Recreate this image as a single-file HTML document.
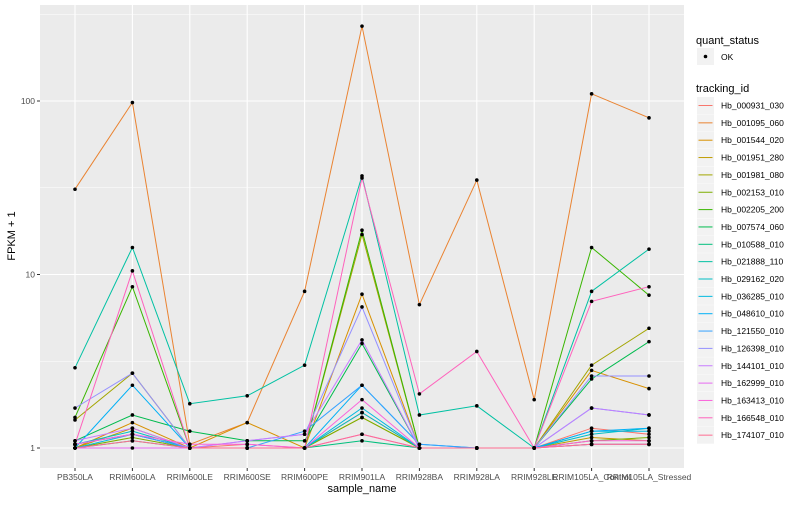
<!DOCTYPE html>
<html><head><meta charset="utf-8"><style>
body{margin:0;background:#fff;font-family:"Liberation Sans",sans-serif}
</style></head><body>
<svg id="chart" width="800" height="500" xmlns="http://www.w3.org/2000/svg" font-family="Liberation Sans, sans-serif">
<rect x="0" y="0" width="800" height="500" fill="#fff"/>
<rect x="40" y="5" width="644" height="463" fill="#ebebeb"/>
<g id="grid"></g><g id="lines"></g><g id="points"></g><g id="axes"></g><g id="legend"></g>
<text x="362" y="492" font-size="11" text-anchor="middle" fill="#000">sample_name</text>
<text x="15" y="236" font-size="11" text-anchor="middle" fill="#000" transform="rotate(-90 15 236)">FPKM + 1</text>
</svg>
<script>
const categories=["PB350LA","RRIM600LA","RRIM600LE","RRIM600SE","RRIM600PE","RRIM901LA","RRIM928BA","RRIM928LA","RRIM928LE","RRIM105LA_Control","RRIM105LA_Stressed"];
const seriesIds=["Hb_000931_030","Hb_001095_060","Hb_001544_020","Hb_001951_280","Hb_001981_080","Hb_002153_010","Hb_002205_200","Hb_007574_060","Hb_010588_010","Hb_021888_110","Hb_029162_020","Hb_036285_010","Hb_048610_010","Hb_121550_010","Hb_126398_010","Hb_144101_010","Hb_162999_010","Hb_163413_010","Hb_166548_010","Hb_174107_010"];
const seriesColors=["#F8766D","#EA8331","#D89000","#C09B00","#A3A500","#7CAE00","#39B600","#00BB4E","#00BF7D","#00C1A3","#00BFC4","#00BAE0","#00B0F6","#35A2FF","#9590FF","#C77CFF","#E76BF3","#FA62DB","#FF62BC","#FF6C91"];
const v000931=[1.05,1.2,1.0,1.05,1.0,1.6,1.0,1.0,1.0,1.3,1.2];
const v001095=[31,98,1.05,1.4,8,270,6.7,35,1.9,110,80];
const v001544=[1.0,1.4,1.0,1.4,1.0,7.7,1.0,1.0,1.0,2.8,2.2];
const v001951=[1.0,1.3,1.0,1.0,1.0,1.5,1.0,1.0,1.0,1.15,1.1];
const v001981=[1.45,2.7,1.0,1.0,1.0,17,1.0,1.0,1.0,3.0,4.9];
const v002153=[1.0,1.15,1.0,1.0,1.0,1.5,1.0,1.0,1.0,1.1,1.15];
const v002205=[1.5,8.5,1.0,1.0,1.0,18,1.0,1.0,1.0,14.3,7.6];
const v007574=[1.1,1.55,1.25,1.1,1.1,4.0,1.0,1.0,1.0,2.5,4.1];
const v010588=[1.0,1.1,1.0,1.0,1.0,1.1,1.0,1.0,1.0,1.05,1.05];
const v021888=[2.9,14.3,1.8,2.0,3.0,37,1.55,1.75,1.0,8,14];
const v029162=[1.05,1.25,1.0,1.0,1.0,1.6,1.0,1.0,1.0,1.2,1.3];
const v036285=[1.0,1.2,1.0,1.0,1.0,1.7,1.0,1.0,1.0,1.25,1.25];
const v048610=[1.0,2.3,1.0,1.0,1.0,2.3,1.05,1.0,1.0,1.25,1.3];
const v121550=[1.05,1.2,1.0,1.0,1.25,2.3,1.05,1.0,1.0,1.7,1.55];
const v126398=[1.7,2.7,1.0,1.1,1.2,6.5,1.0,1.0,1.0,2.6,2.6];
const v144101=[1.1,1.3,1.0,1.1,1.2,4.2,1.0,1.0,1.0,1.7,1.55];
const v162999=[1.0,1.0,1.0,1.0,1.0,1.2,1.0,1.0,1.0,1.05,1.05];
const v163413=[1.05,1.2,1.05,1.05,1.0,1.9,1.0,1.0,1.0,1.1,1.1];
const v166548=[1.05,10.5,1.0,1.0,1.0,36,2.05,3.6,1.0,7,8.5];
const v174107=[1.0,1.1,1.0,1.0,1.0,1.2,1.0,1.0,1.0,1.05,1.05];
const seriesValues=[v000931,v001095,v001544,v001951,v001981,v002153,v002205,v007574,v010588,v021888,v029162,v036285,v048610,v121550,v126398,v144101,v162999,v163413,v166548,v174107];
const yTicks=[1,10,100];
const yTickLabels=["1","10","100"];
const NS="http://www.w3.org/2000/svg";
function xPos(i){return 75+i*57.4;}
function yPos(v){return 448-173.5*Math.log10(v);}
function mk(tag,attrs,parent){const e=document.createElementNS(NS,tag);for(const k in attrs)e.setAttribute(k,attrs[k]);parent.appendChild(e);return e;}
const grid=document.getElementById('grid'),lines=document.getElementById('lines'),pts=document.getElementById('points'),axes=document.getElementById('axes'),leg=document.getElementById('legend');
[0.5,1.5,2.5].forEach(l=>{const y=448-173.5*l;if(y>5){const g=mk('line',{x1:40,x2:684,y1:y,y2:y,stroke:'#fff','stroke-width':0.5},grid);

}});
yTicks.forEach((t,i)=>{const y=yPos(t);const g=mk('line',{x1:40,x2:684,y1:y,y2:y,stroke:'#fff','stroke-width':1.1},grid);


const tk=mk('line',{x1:37,x2:40,y1:y,y2:y,stroke:'#333','stroke-width':1},axes);


const tx=mk('text',{x:35,y:y+3,'font-size':8.5,'text-anchor':'end',fill:'#4d4d4d'},axes);tx.textContent=yTickLabels[i];

});
categories.forEach((c,i)=>{const x=xPos(i);const g=mk('line',{x1:x,x2:x,y1:5,y2:468,stroke:'#fff','stroke-width':1.1},grid);


const tk=mk('line',{x1:x,x2:x,y1:468,y2:471,stroke:'#333','stroke-width':1},axes);


const tx=mk('text',{x:x,y:480,'font-size':8.5,'text-anchor':'middle',fill:'#4d4d4d'},axes);tx.textContent=c;

});
seriesValues.forEach((vals,s)=>{const d=vals.map((v,i)=>(i?'L':'M')+xPos(i).toFixed(1)+','+yPos(v).toFixed(1)).join(' ');
const p=mk('path',{d:d,fill:'none',stroke:seriesColors[s],'stroke-width':1},lines);


vals.forEach((v,i)=>{const c=mk('circle',{cx:xPos(i),cy:yPos(v),r:1.8,fill:'#000'},pts);

});});
let t=mk('text',{x:696,y:44,'font-size':11,fill:'#000'},leg);t.textContent='quant_status';


let kb=mk('rect',{x:697,y:48,width:17,height:17,fill:'#f2f2f2'},leg);


mk('circle',{cx:705.5,cy:56.5,r:1.8,fill:'#000'},leg);
t=mk('text',{x:721,y:60,'font-size':8.5,fill:'#000'},leg);t.textContent='OK';


t=mk('text',{x:696,y:92,'font-size':11,fill:'#000'},leg);t.textContent='tracking_id';


seriesIds.forEach((id,s)=>{const y=97+s*17.35;
const r=mk('rect',{x:697,y:y,width:17,height:17,fill:'#f2f2f2'},leg);


const l=mk('line',{x1:698.5,x2:712.5,y1:y+8.5,y2:y+8.5,stroke:seriesColors[s],'stroke-width':1},leg);


const tx=mk('text',{x:721,y:y+11.5,'font-size':8.5,fill:'#000'},leg);tx.textContent=id;

});
</script>
</body></html>
